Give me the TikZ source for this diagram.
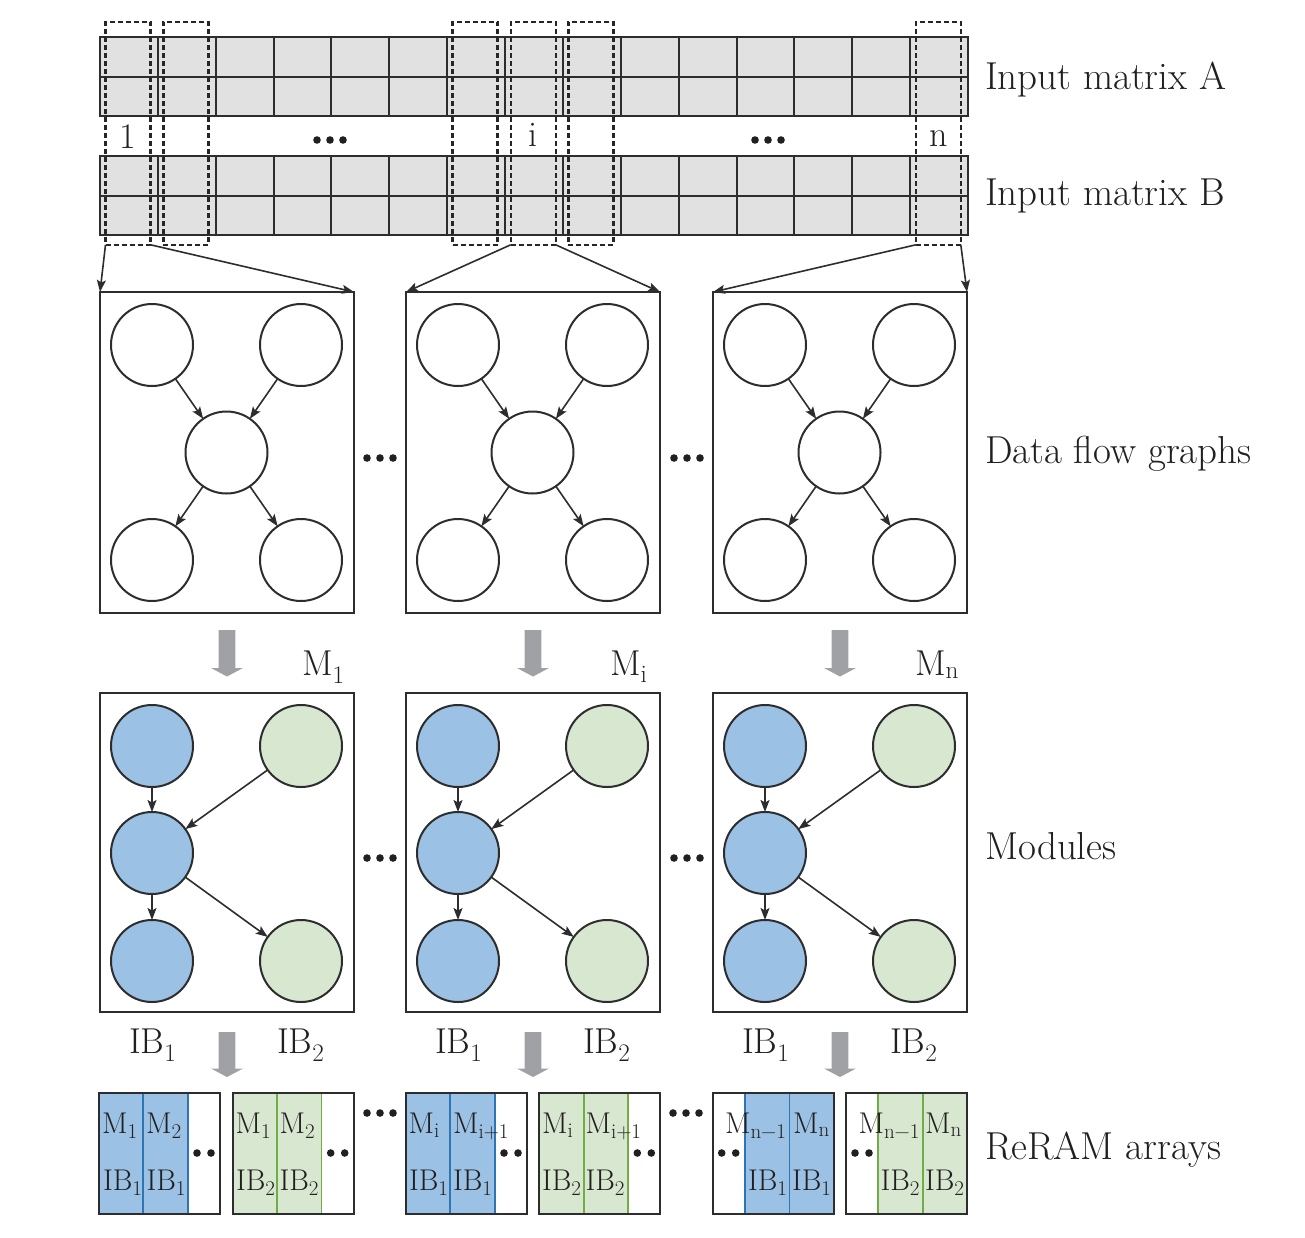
\documentclass[tikz,border=0pt]{standalone}
\usetikzlibrary{arrows.meta,calc}
\definecolor{ln}{HTML}{2D2D2F}
\definecolor{tx}{HTML}{231F20}
\definecolor{mfill}{HTML}{E1E1E1}
\definecolor{bfill}{HTML}{9BC2E4}
\definecolor{gfill}{HTML}{D8E7CF}
\definecolor{bline}{HTML}{2E75B6}
\definecolor{gline}{HTML}{70AD47}
\definecolor{garr}{HTML}{A0A1A4}
\begin{document}
\begin{tikzpicture}[x=1pt,y=-1pt,
  every node/.style={inner sep=0pt,outer sep=0pt},
  lbltxt/.style={text=tx,anchor=base west},
  lblbig/.style={lbltxt,font=\fontsize{36}{40}\selectfont},
  lblside/.style={lbltxt,font=\fontsize{39}{44}\selectfont},
  lblsmall/.style={lbltxt,font=\fontsize{30}{34}\selectfont},
  gridline/.style={draw=ln,line width=2pt},
  selbox/.style={draw=black!85,line width=2.4pt,dash pattern=on 5pt off 3pt,minimum width=45pt,minimum height=223pt},
  gbox/.style={draw=ln,line width=2pt,minimum width=254pt,minimum height=321pt},
  mbox/.style={draw=ln,line width=2pt,minimum width=254pt,minimum height=319pt},
  vtx/.style={circle,draw=ln,line width=2pt,minimum size=82pt},
  link/.style={draw=ln,line width=1.6pt,-{Stealth[length=12pt,width=9pt,inset=2.5pt]}},
  blockarrow/.style={fill=garr},
  dotfill/.style={fill=tx},
  abox/.style={draw=ln,line width=2pt,minimum width=121pt,minimum height=120.7pt},
]
\useasboundingbox (0,0) rectangle (1305,1237);

% ---------- input matrices ----------
\node[fill=mfill,minimum width=868pt,minimum height=79pt,anchor=north west] (mA) at (100,37) {};
\node[fill=mfill,minimum width=868pt,minimum height=79pt,anchor=north west] (mB) at (100,156) {};
\foreach \t in {37,156}{
  \foreach \i in {0,...,15} \draw[gridline] ({100+\i*57.8667},\t) -- ++(0,79);
  \foreach \j in {0,39.5,79} \draw[gridline] (99,\t+\j) -- ++(870,0);
}
\foreach \n/\x in {d1/128,d2/185.8,d3/475,d4/533.2,d5/590.8,d6/938.3}
  \node[selbox] (\n) at (\x,133.3) {};
\node[lblbig,anchor=base] (lab1) at (128,148) {1};
\node[lblbig,anchor=base] (labi) at (533.2,146) {i};
\node[lblbig,anchor=base] (labn) at (938.3,146) {n};
\foreach \x in {330,768} \foreach \d in {-13,0,13} \fill[dotfill] (\x+\d,140) circle[radius=3.8pt];

\node[lblside] (labA) at (985,89) {Input matrix A};
\node[lblside] (labB) at (985,205) {Input matrix B};

% ---------- data flow graphs ----------
\foreach \k/\cx in {1/227,2/533,3/840}{
  \node[gbox] (g\k) at (\cx,452.5) {};
  \node[vtx] (ga\k) at (\cx-75,345) {};
  \node[vtx] (gb\k) at (\cx+74,345) {};
  \node[vtx] (gc\k) at (\cx-0.5,452.5) {};
  \node[vtx] (gd\k) at (\cx-75,560) {};
  \node[vtx] (ge\k) at (\cx+74,560) {};
  \draw[link] (ga\k) -- (gc\k);
  \draw[link] (gb\k) -- (gc\k);
  \draw[link] (gc\k) -- (gd\k);
  \draw[link] (gc\k) -- (ge\k);
}
\draw[link] (d1.south west) -- (g1.north west);
\draw[link] (d1.south east) -- (g1.north east);
\draw[link] (d4.south west) -- (g2.north west);
\draw[link] (d4.south east) -- (g2.north east);
\draw[link] (d6.south west) -- (g3.north west);
\draw[link] (d6.south east) -- (g3.north east);
\foreach \x in {380,687} \foreach \d in {-13,0,13} \fill[dotfill] (\x+\d,458) circle[radius=3.8pt];
\node[lblside] (labD) at (985,463) {Data flow graphs};

% ---------- block arrows to modules ----------
\foreach \cx in {227,533,840}{
  \fill[blockarrow] (\cx-8.3,630) -- (\cx+8.3,630) -- (\cx+8.3,668) -- (\cx+16,668) -- (\cx,676.5) -- (\cx-16,668) -- (\cx-8.3,668) -- cycle;
  \fill[blockarrow] (\cx-8.3,1032) -- (\cx+8.3,1032) -- (\cx+8.3,1068.5) -- (\cx+16,1068.5) -- (\cx,1077) -- (\cx-16,1068.5) -- (\cx-8.3,1068.5) -- cycle;
}
\node[lblbig] (lm1) at (302,675) {M\textsubscript{1}};
\node[lblbig] (lmi) at (610,675) {M\textsubscript{i}};
\node[lblbig] (lmn) at (915,675) {M\textsubscript{n}};

% ---------- modules ----------
\foreach \k/\cx in {1/227,2/533,3/840}{
  \node[mbox] (mo\k) at (\cx,852.5) {};
  \node[vtx,fill=bfill] (ma\k) at (\cx-75,746) {};
  \node[vtx,fill=bfill] (mc\k) at (\cx-75,853) {};
  \node[vtx,fill=bfill] (md\k) at (\cx-75,961) {};
  \node[vtx,fill=gfill] (mb\k) at (\cx+74,746) {};
  \node[vtx,fill=gfill] (me\k) at (\cx+74,961) {};
  \draw[link] (ma\k) -- (mc\k);
  \draw[link] (mb\k) -- (mc\k);
  \draw[link] (mc\k) -- (md\k);
  \draw[link] (mc\k) -- (me\k);
}
\foreach \x in {380,687} \foreach \d in {-13,0,13} \fill[dotfill] (\x+\d,858) circle[radius=3.8pt];
\node[lblside] (labM) at (985,859) {Modules};

% ---------- IB labels ----------
\foreach \k/\L in {1/100,2/406,3/713}{
  \node[lblbig] (ibl\k) at (\L+29,1053) {IB\textsubscript{1}};
  \node[lblbig] (ibr\k) at (\L+177,1053) {IB\textsubscript{2}};
}

% ---------- ReRAM arrays ----------
\foreach \n/\L/\fc/\lc in {r1/99/bfill/bline,r2/232.7/gfill/gline,r3/406/bfill/bline,r4/539.3/gfill/gline}{
  \fill[\fc] (\L,1093.3) rectangle (\L+88.7,1214);
  \draw[\lc,line width=1.8pt] (\L+44.3,1093.3) -- ++(0,120.7) (\L+88.7,1093.3) -- ++(0,120.7);
  \node[abox] (\n) at (\L+60.5,1153.65) {};
  \fill[dotfill] (\L+98,1153) circle[radius=3.8pt] (\L+112,1153) circle[radius=3.8pt];
}
\foreach \n/\L/\fc/\lc in {r5/712.7/bfill/bline,r6/846/gfill/gline}{
  \fill[\fc] (\L+32.3,1093.3) rectangle (\L+121,1214);
  \draw[\lc,line width=1.8pt] (\L+32.3,1093.3) -- ++(0,120.7) (\L+76.7,1093.3) -- ++(0,120.7);
  \node[abox] (\n) at (\L+60.5,1153.65) {};
  \fill[dotfill] (\L+9,1153) circle[radius=3.8pt] (\L+23,1153) circle[radius=3.8pt];
}
% texts
\node[lblsmall] at (102,1133) {M\textsubscript{1}};
\node[lblsmall] at (146,1133) {M\textsubscript{2}};
\node[lblsmall] at (103,1190) {IB\textsubscript{1}};
\node[lblsmall] at (146.5,1190) {IB\textsubscript{1}};

\node[lblsmall] at (235.5,1133) {M\textsubscript{1}};
\node[lblsmall] at (279.5,1133) {M\textsubscript{2}};
\node[lblsmall] at (236,1190) {IB\textsubscript{2}};
\node[lblsmall] at (279.5,1190) {IB\textsubscript{2}};

\node[lblsmall] at (408.5,1133) {M\textsubscript{i}};
\node[lblsmall] at (453,1133) {M\textsubscript{i+1}};
\node[lblsmall] at (409,1190) {IB\textsubscript{1}};
\node[lblsmall] at (453,1190) {IB\textsubscript{1}};

\node[lblsmall] at (542,1133) {M\textsubscript{i}};
\node[lblsmall] at (585.5,1133) {M\textsubscript{i+1}};
\node[lblsmall] at (542,1190) {IB\textsubscript{2}};
\node[lblsmall] at (585.5,1190) {IB\textsubscript{2}};

\node[lblsmall] at (725,1133) {M\textsubscript{n−1}};
\node[lblsmall] at (793,1133) {M\textsubscript{n}};
\node[lblsmall] at (748,1190) {IB\textsubscript{1}};
\node[lblsmall] at (792,1190) {IB\textsubscript{1}};

\node[lblsmall] at (858.5,1133) {M\textsubscript{n−1}};
\node[lblsmall] at (925,1133) {M\textsubscript{n}};
\node[lblsmall] at (880.5,1190) {IB\textsubscript{2}};
\node[lblsmall] at (925,1190) {IB\textsubscript{2}};

\foreach \x in {380,686} \foreach \d in {-13,0,13} \fill[dotfill] (\x+\d,1113) circle[radius=3.8pt];
\node[lblside] (labR) at (985,1159) {ReRAM arrays};
\end{tikzpicture}
\end{document}
